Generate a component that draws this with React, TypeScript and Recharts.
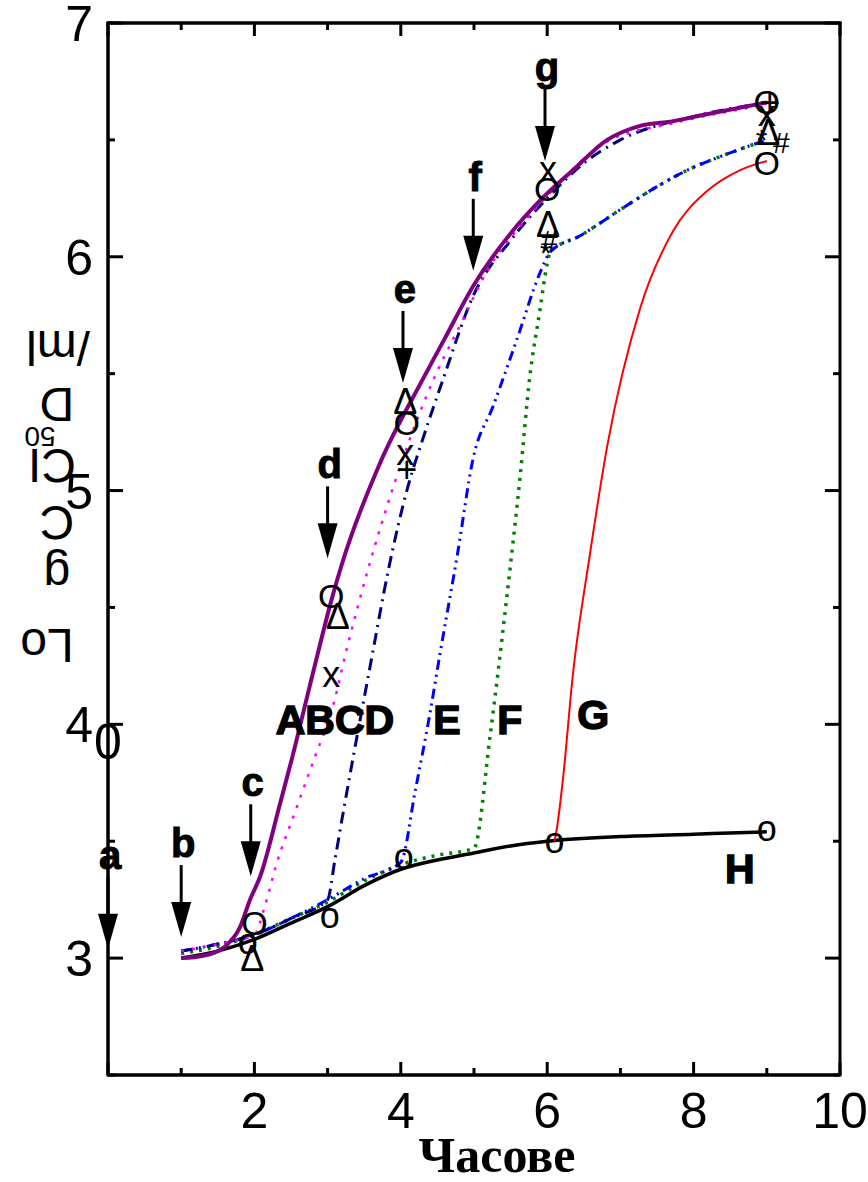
import React from "react";
import { ComposedChart, Line, Scatter, XAxis, YAxis, ReferenceDot, ReferenceArea } from "recharts";

const SANS = "'Liberation Sans', Arial, sans-serif";
const SERIF = "'Liberation Serif', 'Times New Roman', serif";

// layout
const W = 868;
const H = 1182;
const M = { top: 23, right: 28, left: 0, bottom: 0 };
const Y_AXIS_W = 108;
const X_AXIS_H = 107;
const PLOT_W = W - M.left - M.right - Y_AXIS_W;
const PLOT_H = H - M.top - M.bottom - X_AXIS_H;

// axes
const xTicks = [0, 1, 2, 3, 4, 5, 6, 7, 8, 9, 10];
const xLabels = [2, 4, 6, 8, 10];
const yTicks = [2.5, 3, 3.5, 4, 4.5, 5, 5.5, 6, 6.5, 7];
const yLabels = [3, 4, 5, 6, 7];
const xMin = 0;
const xMax = 10;
const yMin = 2.5;
const yMax = 7;

// H - control (black)
const hX = [1, 1.5, 2, 2.5, 3, 3.5, 4, 4.5, 5, 5.5, 6, 7, 8, 9];
const hY = [3.0, 3.03, 3.08, 3.15, 3.22, 3.31, 3.38, 3.42, 3.45, 3.48, 3.5, 3.52, 3.53, 3.54];

// A - purple
const aX = [1, 1.3, 1.6, 1.8, 1.94, 2.08, 2.35, 2.51, 2.8, 3.06, 3.2, 3.72, 4.29, 4.6, 5, 5.5, 5.9, 6.35, 6.82, 7.27, 7.72, 8.18, 9];
const aY = [3.0, 3.01, 3.05, 3.13, 3.25, 3.35, 3.66, 3.85, 4.22, 4.54, 4.69, 5.12, 5.47, 5.65, 5.88, 6.1, 6.24, 6.37, 6.5, 6.56, 6.58, 6.61, 6.66];

// B - magenta dotted
const bX = [1, 1.5, 2, 2.15, 2.3, 2.55, 2.85, 3.05, 3.26, 3.55, 3.72, 4.1, 4.44, 4.8, 5.2, 5.6, 6, 6.8, 7.7, 9];
const bY = [3.03, 3.06, 3.1, 3.23, 3.4, 3.62, 3.88, 4.05, 4.32, 4.66, 4.84, 5.2, 5.47, 5.7, 5.95, 6.12, 6.26, 6.49, 6.57, 6.65];

// C - navy dash-dot
const cX = [1, 1.5, 2, 2.5, 3, 3.1, 3.2, 3.35, 3.6, 3.83, 4.1, 4.3, 4.56, 5, 5.5, 6, 6.5, 7, 8, 9];
const cY = [3.03, 3.06, 3.1, 3.17, 3.25, 3.42, 3.6, 3.86, 4.28, 4.66, 5.02, 5.22, 5.46, 5.84, 6.07, 6.25, 6.4, 6.5, 6.6, 6.66];

// E - blue dash-dot-dot
const eX = [1, 1.5, 2, 2.5, 3, 3.5, 4, 4.2, 4.4, 4.54, 4.77, 4.99, 5.26, 5.59, 5.9, 6.04, 6.45, 7.04, 7.5, 7.91, 8.46, 9];
const eY = [3.03, 3.06, 3.1, 3.17, 3.25, 3.34, 3.41, 3.72, 4.05, 4.31, 4.72, 5.14, 5.36, 5.65, 5.93, 6.02, 6.09, 6.21, 6.3, 6.37, 6.44, 6.5];

// F - green dotted
const fX = [1, 1.5, 2, 2.5, 3, 3.5, 4, 4.5, 5, 5.22, 5.45, 5.63, 5.76, 5.9, 6, 6.04, 6.45, 7.04, 7.5, 7.91, 8.46, 9];
const fY = [3.02, 3.05, 3.1, 3.17, 3.24, 3.33, 3.4, 3.44, 3.47, 3.95, 4.55, 5.06, 5.48, 5.77, 5.97, 6.02, 6.09, 6.21, 6.3, 6.37, 6.44, 6.5];

// G - red
const gX = [6.1, 6.13, 6.22, 6.35, 6.58, 6.82, 7.27, 7.72, 8.18, 8.63, 9];
const gY = [3.5, 3.55, 3.78, 4.21, 4.72, 5.19, 5.78, 6.11, 6.28, 6.37, 6.41];

// point markers
const mkX = [2, 3.05, 4.08, 6.0, 9.0, 9.0, 1.91, 3.03, 4.04, 6.1, 9.0, 1.97, 3.14, 4.06, 6.01, 9.02, 3.05, 4.06, 6.01, 9.0, 4.08, 9.04, 6.03, 9.2, 5.98, 8.93];
const mkY = [3.15, 4.55, 5.29, 6.29, 6.66, 6.4, 3.06, 3.17, 3.42, 3.49, 3.54, 3.0, 4.46, 5.38, 6.14, 6.53, 4.2, 5.15, 6.36, 6.6, 5.09, 6.66, 6.07, 6.49, 6.02, 6.5];
const mkG = ["O", "O", "O", "O", "O", "O", "o", "o", "o", "o", "o", "Δ", "Δ", "Δ", "Δ", "Δ", "x", "x", "x", "x", "+", "+", "#", "#", "*", "*"];

// arrows (tip positions) with letters
const arrX = [0, 1, 1.95, 3, 4.03, 4.99, 5.97];
const arrY = [3.04, 3.09, 3.35, 4.71, 5.46, 5.94, 6.41];
const arrT = ["a", "b", "c", "d", "e", "f", "g"];

// curve names
const lblX = [3.1, 4.63, 5.49, 6.63, 8.63];
const lblY = [4.02, 4.02, 4.02, 4.04, 3.38];
const lblT = ["ABCD", "E", "F", "G", "H"];

const pts = (xs: number[], ys: number[]) => xs.map((x, i) => ({ x, y: ys[i] }));

const markers = mkX.map((x, i) => ({ x, y: mkY[i], g: mkG[i] }));
const arrows = arrX.map((x, i) => ({ x, y: arrY[i], t: arrT[i] }));
const curveLabels = lblX.map((x, i) => ({ x, y: lblY[i], t: lblT[i] }));
const rightTicks = yTicks.map((y) => ({ x: xMax, y, v: y }));

const glyphSize: Record<string, number> = { O: 34, o: 36, "Δ": 36, x: 36, "+": 36, "#": 30, "*": 30 };

const Marker = (p: any) => {
  const g = p.payload.g;
  const dy = g === "o" || g === "x" ? -3 : 0;
  return (
    <text x={p.cx} y={p.cy + dy} textAnchor="middle" dominantBaseline="central"
      fontFamily={SANS} fontSize={glyphSize[g]} fill="#000">{g}</text>
  );
};

const Arrow = (p: any) => {
  const { cx, cy } = p;
  return (
    <g>
      <line x1={cx} y1={cy - 72} x2={cx} y2={cy - 30} stroke="#000" strokeWidth={3} />
      <polygon points={`${cx - 10},${cy - 35} ${cx + 10},${cy - 35} ${cx},${cy}`} fill="#000" />
      <text x={cx + 2} y={cy - 80} textAnchor="middle" fontFamily={SANS} fontWeight="bold"
        fontSize={40} fill="#000" stroke="#000" strokeWidth={1}>{p.payload.t}</text>
    </g>
  );
};

const CurveLabel = (p: any) => (
  <text x={p.cx} y={p.cy} textAnchor="middle" dominantBaseline="central" fontFamily={SANS}
    fontWeight="bold" fontSize={41} fill="#000" stroke="#000" strokeWidth={1.5}>{p.payload.t}</text>
);

const RightTick = (p: any) => {
  const len = Number.isInteger(p.payload.v) ? 15 : 7;
  return <line x1={p.cx} y1={p.cy} x2={p.cx - len} y2={p.cy} stroke="#000" strokeWidth={3} />;
};

// bottom ticks point up; the matching top-frame tick is drawn with it
const XTick = (p: any) => {
  const v = p.payload.value;
  const len = v % 2 === 0 ? 13 : 7;
  const top = p.y - PLOT_H;
  return (
    <g>
      <line x1={p.x} y1={p.y} x2={p.x} y2={p.y - len} stroke="#000" strokeWidth={3} />
      <line x1={p.x} y1={top} x2={p.x} y2={top + len} stroke="#000" strokeWidth={3} />
      {xLabels.includes(v) && (
        <text x={p.x} y={p.y + 53} textAnchor="middle" fontFamily={SANS} fontSize={50} fill="#000">{v}</text>
      )}
    </g>
  );
};

// left ticks point right; the top tick also carries the top side of the frame
const YTick = (p: any) => {
  const v = p.payload.value;
  const len = Number.isInteger(v) ? 15 : 7;
  return (
    <g>
      <line x1={p.x} y1={p.y} x2={p.x + len} y2={p.y} stroke="#000" strokeWidth={3} />
      {v === yMax && (
        <line x1={p.x - 1.5} y1={p.y} x2={p.x + PLOT_W + 1.5} y2={p.y} stroke="#000" strokeWidth={3} />
      )}
      {yLabels.includes(v) && (
        <text x={p.x - 15} y={p.y + 18} textAnchor="end" fontFamily={SANS} fontSize={50} fill="#000">{v}</text>
      )}
    </g>
  );
};

// the y title is drawn glyph by glyph, each piece turned upside down
const yTitle = [
  { t: "/ml", dx: 58, dy: 324, s: 48 },
  { t: "D", dx: 57, dy: 381, s: 48 },
  { t: "50", dx: 40, dy: 413, s: 28 },
  { t: "CI", dx: 52, dy: 442, s: 48 },
  { t: "C", dx: 57, dy: 499, s: 48 },
  { t: "g", dx: 57, dy: 552, s: 48 },
  { t: "Lo", dx: 47, dy: 622, s: 48 },
];

const YTitle = (props: any) => {
  const vb = props.viewBox || { x: 0, y: 23 };
  return (
    <g>
      {yTitle.map((p, i) => {
        const cx = vb.x + p.dx;
        const cy = vb.y + p.dy;
        return (
          <text key={i} x={cx} y={cy} textAnchor="middle" dominantBaseline="central" fontFamily={SANS}
            fontSize={p.s} fill="#000" transform={`rotate(180 ${cx} ${cy})`}>{p.t}</text>
        );
      })}
    </g>
  );
};

const XTitle = (props: any) => {
  const vb = props.viewBox || { x: 108, y: 1075, width: 732 };
  return (
    <text x={vb.x + vb.width / 2 + 23} y={vb.y + 97} textAnchor="middle" fontFamily={SERIF}
      fontWeight="bold" fontSize={50} fill="#000">Часове</text>
  );
};

export default function App() {
  return (
    <div style={{ position: "absolute", left: 0, top: 0, background: "#fff" }}>
      <ComposedChart width={W} height={H} margin={M}>
        <XAxis dataKey="x" type="number" domain={[xMin, xMax]} ticks={xTicks} interval={0} height={X_AXIS_H}
          tickSize={0} tickMargin={0} tickLine={false} tick={<XTick />}
          axisLine={{ stroke: "#000", strokeWidth: 3 }} label={<XTitle />} />
        <YAxis type="number" domain={[yMin, yMax]} ticks={yTicks} interval={0} width={Y_AXIS_W}
          tickSize={0} tickMargin={0} tickLine={false} tick={<YTick />}
          axisLine={{ stroke: "#000", strokeWidth: 3 }} label={<YTitle />} />

        {/* frame: right side with inward ticks */}
        <ReferenceArea x1={xMin} x2={xMax} y1={yMin} y2={yMax} fill="none" stroke="#000" strokeWidth={3} ifOverflow="visible" />
        <Scatter data={rightTicks} dataKey="y" shape={(p: any) => <RightTick {...p} />} isAnimationActive={false} />

        <Line data={pts(hX, hY)} dataKey="y" type="monotone" stroke="#000" strokeWidth={3.5} dot={false} isAnimationActive={false} />
        <Line data={pts(fX, fY)} dataKey="y" type="monotone" stroke="#008000" strokeWidth={3.5} strokeDasharray="3 6" dot={false} isAnimationActive={false} />
        <Line data={pts(eX, eY)} dataKey="y" type="monotone" stroke="#0000ff" strokeWidth={3} strokeDasharray="10 5 2 5 2 5" dot={false} isAnimationActive={false} />
        <Line data={pts(cX, cY)} dataKey="y" type="monotone" stroke="#000080" strokeWidth={3} strokeDasharray="12 6 2 6" dot={false} isAnimationActive={false} />
        <Line data={pts(bX, bY)} dataKey="y" type="monotone" stroke="#ff00ff" strokeWidth={2.5} strokeDasharray="3 8" dot={false} isAnimationActive={false} />
        <Line data={pts(gX, gY)} dataKey="y" type="monotone" stroke="#ff0000" strokeWidth={2} dot={false} isAnimationActive={false} />
        <Line data={pts(aX, aY)} dataKey="y" type="monotone" stroke="#800080" strokeWidth={4} dot={false} isAnimationActive={false} />

        <Scatter data={markers} dataKey="y" shape={(p: any) => <Marker {...p} />} isAnimationActive={false} />
        <Scatter data={arrows} dataKey="y" shape={(p: any) => <Arrow {...p} />} isAnimationActive={false} />
        <Scatter data={curveLabels} dataKey="y" shape={(p: any) => <CurveLabel {...p} />} isAnimationActive={false} />

        <ReferenceDot x={0} y={3.93} r={0} ifOverflow="visible"
          shape={(p: any) => (
            <text x={p.cx} y={p.cy + 18} textAnchor="middle" fontFamily={SANS} fontSize={50} fill="#000">0</text>
          )} />
      </ComposedChart>
    </div>
  );
}
